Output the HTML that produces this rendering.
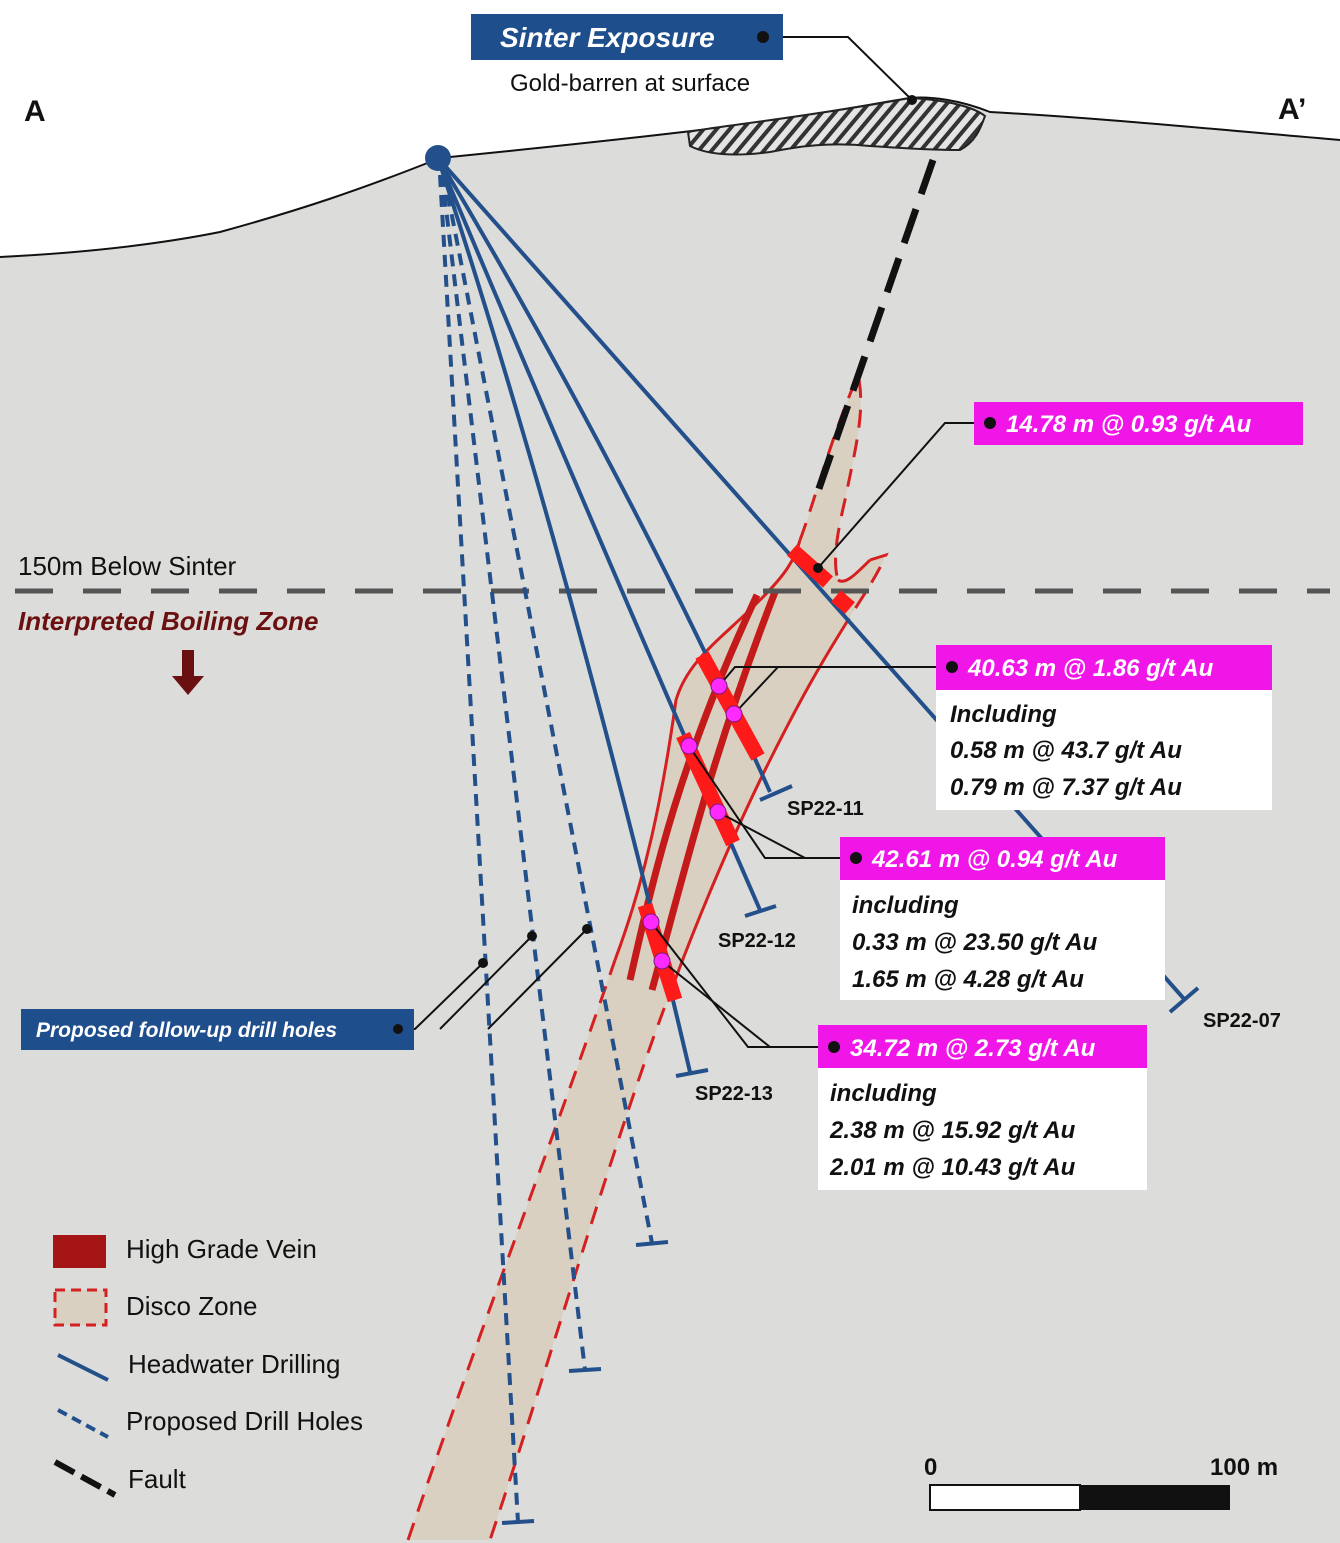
<!DOCTYPE html>
<html><head><meta charset="utf-8"><style>
html,body{margin:0;padding:0;background:#fff}
svg{display:block}
text{font-family:"Liberation Sans",sans-serif}
.bi{font-weight:bold;font-style:italic}
</style></head><body>
<svg width="1340" height="1543" viewBox="0 0 1340 1543" xmlns="http://www.w3.org/2000/svg">
<defs>
<pattern id="h" width="10" height="10" patternUnits="userSpaceOnUse" patternTransform="rotate(40)">
<rect width="10" height="10" fill="#e4e4e4"/><rect width="4" height="10" fill="#333"/></pattern>
</defs>
<rect width="1340" height="1543" fill="#dcdcda"/>
<path d="M0,0 H1340 V140 C1200,128 1100,118 990,112 C960,100 930,96 910,98 C860,106 800,118 700,130 C600,142 520,150 440,158 C360,190 300,210 220,232 C140,248 60,254 0,257 Z" fill="#fff"/>
<path d="M0,257 C60,254 140,248 220,232 C300,210 360,190 440,158 C520,150 600,142 700,130 C800,118 860,106 910,98 C930,96 960,100 990,112 C1100,118 1200,128 1340,140" fill="none" stroke="#111" stroke-width="2"/>
<!-- sinter -->
<path d="M688,132 C720,126 800,118 910,98 C950,100 975,108 985,116 C980,130 975,142 960,150 C930,150 900,148 870,146 C830,142 800,146 770,152 C740,156 710,156 690,146 Z" fill="url(#h)" stroke="#222" stroke-width="2"/>
<!-- disco zone -->
<path d="M408,1540 C480,1330 560,1120 615,960 C645,880 662,800 676,700 C688,660 720,640 760,600 C785,575 795,560 800,540 C815,500 830,440 858,375 C866,410 855,450 845,500 C838,530 832,560 838,580 C845,585 855,575 870,560 L886,555 C875,580 860,600 845,625 C820,665 800,700 770,760 C740,820 705,900 675,980 C620,1120 560,1330 490,1540 Z" fill="#d9d0c2" stroke="none"/>
<path d="M615,960 C645,880 662,800 676,700 C688,660 720,640 760,600 C785,575 795,560 800,540 M838,580 C845,585 855,575 870,560 M845,625 C820,665 800,700 770,760 C740,820 705,900 675,980" fill="none" stroke="#d42020" stroke-width="3"/>
<path d="M408,1540 C480,1330 560,1120 615,960 M800,540 C815,500 830,440 858,375 C866,410 855,450 845,500 C838,530 832,560 838,580 M870,560 L886,555 C875,580 860,600 845,625 M675,980 C620,1120 560,1330 490,1540" fill="none" stroke="#d42020" stroke-width="3" stroke-dasharray="18,12"/>
<!-- veins -->
<path d="M630,980 C655,870 680,760 757,595" fill="none" stroke="#c41a1a" stroke-width="7"/>
<path d="M652,990 C685,870 710,760 775,592" fill="none" stroke="#c41a1a" stroke-width="7"/>
<!-- fault -->
<line x1="933" y1="160" x2="815" y2="500" stroke="#111" stroke-width="7" stroke-dasharray="36,16"/>
<!-- 150m line -->
<line x1="15" y1="591" x2="1330" y2="591" stroke="#555" stroke-width="5" stroke-dasharray="38,30"/>
<!-- proposed dashed -->
<g stroke="#23508a" stroke-width="4" fill="none" stroke-dasharray="12,8">
<line x1="440" y1="175" x2="518" y2="1522"/>
<line x1="442" y1="175" x2="585" y2="1370"/>
<line x1="444" y1="175" x2="652" y2="1243"/>
</g>
<g stroke="#23508a" stroke-width="4">
<line x1="502" y1="1523" x2="534" y2="1521"/><line x1="569" y1="1371" x2="601" y2="1369"/><line x1="636" y1="1245" x2="668" y2="1242"/>
</g>
<!-- drill holes -->
<g stroke="#23508a" stroke-width="4" fill="none">
<line x1="438" y1="158" x2="1185" y2="1000"/>
<path d="M438,158 Q630,480 770,792"/>
<path d="M438,158 Q590,520 760,910"/>
<path d="M438,158 Q570,560 690,1072"/>
<line x1="1170" y1="1012" x2="1198" y2="988"/>
<line x1="760" y1="800" x2="792" y2="786"/>
<line x1="745" y1="916" x2="776" y2="906"/>
<line x1="676" y1="1076" x2="708" y2="1070"/>
</g>
<circle cx="438" cy="158" r="13" fill="#23508a"/>
<!-- intervals -->
<g stroke="#ff1a1a" stroke-width="15">
<line x1="792" y1="550" x2="828" y2="582"/>
<line x1="836" y1="596" x2="850" y2="608"/>
<line x1="702" y1="655" x2="758" y2="757"/>
<line x1="683" y1="735" x2="733" y2="843"/>
<line x1="645" y1="905" x2="675" y2="1000"/>
</g>
<!-- leaders -->
<g stroke="#111" stroke-width="2" fill="none">
<polyline points="990,423 945,423 818,568"/>
<polyline points="952,667 735,667 719,686"/>
<polyline points="778,667 734,714"/>
<polyline points="856,858 765,858 689,746"/>
<polyline points="805,858 718,812"/>
<polyline points="834,1047 748,1047 651,922"/>
<polyline points="770,1047 662,961"/>
<polyline points="763,37 848,37 912,100"/>
<polyline points="398,1029 415,1029 483,963"/>
<polyline points="440,1029 532,936"/>
<polyline points="488,1029 587,929"/>
</g>
<g fill="#111"><circle cx="818" cy="568" r="5"/><circle cx="912" cy="100" r="5"/><circle cx="483" cy="963" r="5"/><circle cx="532" cy="936" r="5"/><circle cx="587" cy="929" r="5"/></g>
<g fill="#ff2aff" stroke="#7a1a7a" stroke-width="1"><circle cx="719" cy="686" r="8"/><circle cx="734" cy="714" r="8"/><circle cx="689" cy="746" r="8"/><circle cx="718" cy="812" r="8"/><circle cx="651" cy="922" r="8"/><circle cx="662" cy="961" r="8"/></g>
<!-- sinter label -->
<rect x="471" y="14" width="312" height="46" fill="#1f4e8c"/>
<text x="500" y="47" class="bi" font-size="28" fill="#fff">Sinter Exposure</text>
<circle cx="763" cy="37" r="6" fill="#111"/>
<text x="630" y="91" font-size="24" fill="#111" text-anchor="middle">Gold-barren at surface</text>
<text x="24" y="121" font-size="30" font-weight="bold" fill="#111">A</text>
<text x="1278" y="119" font-size="30" font-weight="bold" fill="#111">A’</text>
<!-- result boxes -->
<rect x="974" y="402" width="329" height="43" fill="#f016e8"/>
<circle cx="990" cy="423" r="6" fill="#111"/>
<text x="1006" y="432" class="bi" font-size="24" fill="#fff">14.78 m @ 0.93 g/t Au</text>

<rect x="936" y="690" width="336" height="120" fill="#fff"/>
<rect x="936" y="645" width="336" height="45" fill="#f016e8"/>
<circle cx="952" cy="667" r="6" fill="#111"/>
<text x="968" y="676" class="bi" font-size="24" fill="#fff">40.63 m @ 1.86 g/t Au</text>
<text x="950" y="722" class="bi" font-size="24" fill="#111">Including</text>
<text x="950" y="758" class="bi" font-size="24" fill="#111">0.58 m @ 43.7 g/t Au</text>
<text x="950" y="795" class="bi" font-size="24" fill="#111">0.79 m @ 7.37 g/t Au</text>

<rect x="840" y="880" width="325" height="120" fill="#fff"/>
<rect x="840" y="837" width="325" height="43" fill="#f016e8"/>
<circle cx="856" cy="858" r="6" fill="#111"/>
<text x="872" y="867" class="bi" font-size="24" fill="#fff">42.61 m @ 0.94 g/t Au</text>
<text x="852" y="913" class="bi" font-size="24" fill="#111">including</text>
<text x="852" y="950" class="bi" font-size="24" fill="#111">0.33 m @ 23.50 g/t Au</text>
<text x="852" y="987" class="bi" font-size="24" fill="#111">1.65 m @ 4.28 g/t Au</text>

<rect x="818" y="1068" width="329" height="122" fill="#fff"/>
<rect x="818" y="1025" width="329" height="43" fill="#f016e8"/>
<circle cx="834" cy="1047" r="6" fill="#111"/>
<text x="850" y="1056" class="bi" font-size="24" fill="#fff">34.72 m @ 2.73 g/t Au</text>
<text x="830" y="1101" class="bi" font-size="24" fill="#111">including</text>
<text x="830" y="1138" class="bi" font-size="24" fill="#111">2.38 m @ 15.92 g/t Au</text>
<text x="830" y="1175" class="bi" font-size="24" fill="#111">2.01 m @ 10.43 g/t Au</text>
<!-- hole labels -->
<g font-size="20" font-weight="bold" fill="#111">
<text x="787" y="815">SP22-11</text><text x="718" y="947">SP22-12</text><text x="1203" y="1027">SP22-07</text><text x="695" y="1100">SP22-13</text>
</g>
<!-- left labels -->
<text x="18" y="575" font-size="26" fill="#111">150m Below Sinter</text>
<text x="18" y="630" class="bi" font-size="26" fill="#6a1010">Interpreted Boiling Zone</text>
<path d="M182,650 H194 V676 H204 L188,695 L172,676 H182 Z" fill="#6a1010"/>
<rect x="21" y="1009" width="393" height="41" fill="#1f4e8c"/>
<text x="36" y="1037" class="bi" font-size="21" fill="#fff">Proposed follow-up drill holes</text>
<circle cx="398" cy="1029" r="5" fill="#111"/>
<!-- legend -->
<rect x="53" y="1235" width="53" height="33" fill="#a51515"/>
<rect x="55" y="1290" width="51" height="35" fill="#d9d0c2" stroke="#d42020" stroke-width="3" stroke-dasharray="10,6"/>
<line x1="58" y1="1355" x2="108" y2="1380" stroke="#23508a" stroke-width="4"/>
<line x1="58" y1="1410" x2="108" y2="1437" stroke="#23508a" stroke-width="4" stroke-dasharray="10,6"/>
<line x1="55" y1="1462" x2="115" y2="1495" stroke="#111" stroke-width="6" stroke-dasharray="22,8"/>
<g font-size="26" fill="#111">
<text x="126" y="1258">High Grade Vein</text><text x="126" y="1315">Disco Zone</text><text x="128" y="1373">Headwater Drilling</text><text x="126" y="1430">Proposed Drill Holes</text><text x="128" y="1488">Fault</text>
</g>
<!-- scale -->
<text x="924" y="1475" font-size="24" font-weight="bold" fill="#111">0</text>
<text x="1210" y="1475" font-size="24" font-weight="bold" fill="#111">100 m</text>
<rect x="930" y="1485" width="150" height="25" fill="#fff" stroke="#111" stroke-width="2"/>
<rect x="1080" y="1485" width="150" height="25" fill="#111"/>
</svg>
</body></html>
